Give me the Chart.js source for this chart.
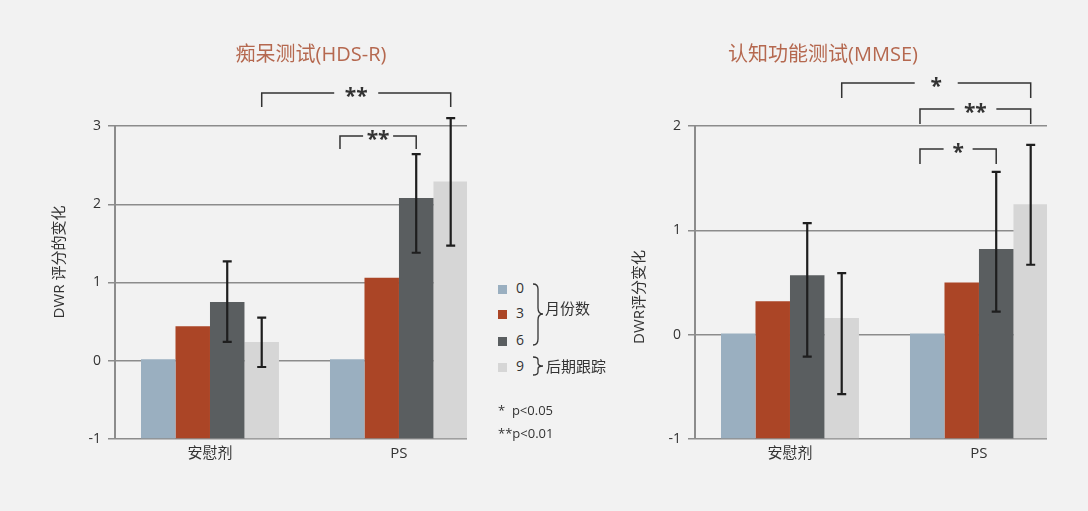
<!DOCTYPE html>
<html lang="zh">
<head>
    <meta charset="UTF-8">
    <title>DWR 评分的变化</title>
    <script src="https://cdn.jsdelivr.net/npm/chart.js"></script>
    <style>
        body {
            margin: 0;
            background-color: #f2f2f2;
            font-family: "Open Sans", "Noto Sans CJK SC", sans-serif;
            color: #333;
        }

        .page {
            position: relative;
            width: 1088px;
            height: 511px;
            overflow: hidden;
        }

        canvas {
            position: absolute;
            top: 0;
        }

        #hdsChart { left: 0; }
        #mmseChart { left: 580px; }

        .legend-item {
            position: absolute;
            left: 498px;
            height: 20px;
            line-height: 20px;
            font-size: 14px;
            white-space: nowrap;
        }

        .swatch {
            display: inline-block;
            width: 9px;
            height: 9px;
            margin-right: 9px;
            vertical-align: -1px;
        }

        .note {
            position: absolute;
            font-size: 15px;
            line-height: 20px;
            white-space: nowrap;
        }

        .pval {
            position: absolute;
            left: 498px;
            font-size: 13px;
            line-height: 18px;
            white-space: nowrap;
        }

        .brace {
            position: absolute;
            left: 532px;
        }
    </style>
</head>
<body>

<div class="page">
    <canvas id="hdsChart" width="480" height="511"></canvas>
    <canvas id="mmseChart" width="480" height="511"></canvas>

    <div id="legend"></div>
    <svg class="brace" style="top:283px" width="12" height="63">
        <path d="M1,1 Q6,1 6,6 L6,25 Q6,31 11,31 Q6,31 6,37 L6,56 Q6,62 1,62" fill="none" stroke="#333" stroke-width="1.3"/>
    </svg>
    <div class="note" style="left:545px; top:298px">月份数</div>
    <svg class="brace" style="top:356px" width="12" height="20">
        <path d="M1,1 Q6,1 6,4 L6,7 Q6,10 11,10 Q6,10 6,13 L6,16 Q6,19 1,19" fill="none" stroke="#333" stroke-width="1.3"/>
    </svg>
    <div class="note" style="left:546px; top:356px">后期跟踪</div>

    <div class="pval" style="top:401px">*&nbsp; p&lt;0.05</div>
    <div class="pval" style="top:424px">**p&lt;0.01</div>
</div>

<script>
    const groups = ['安慰剂', 'PS'];
    const months = ['0', '3', '6', '9'];
    const colors = ['#9aafc0', '#ab4526', '#5a5e60', '#d6d6d6'];

    // 痴呆测试(HDS-R)
    const hdsM0 = [0.02, 0.02];
    const hdsM3 = [0.44, 1.06];
    const hdsM6 = [0.75, 2.08];
    const hdsM9 = [0.24, 2.29];
    const hdsErr6 = [[0.24, 1.27], [1.38, 2.64]];
    const hdsErr9 = [[-0.08, 0.55], [1.47, 3.10]];
    const hdsTicks = [-1, 0, 1, 2, 3];
    // [group, month index] pairs that are compared
    const hdsSig = [
        { a: [0, 3], b: [1, 3], label: '**' },
        { a: [1, 0], b: [1, 2], label: '**' }
    ];

    // 认知功能测试(MMSE)
    const mmseM0 = [0.01, 0.01];
    const mmseM3 = [0.32, 0.50];
    const mmseM6 = [0.57, 0.82];
    const mmseM9 = [0.16, 1.25];
    const mmseErr6 = [[-0.21, 1.07], [0.22, 1.56]];
    const mmseErr9 = [[-0.57, 0.59], [0.67, 1.82]];
    const mmseTicks = [-1, 0, 1, 2];
    const mmseSig = [
        { a: [0, 3], b: [1, 3], label: '*' },
        { a: [1, 0], b: [1, 3], label: '**' },
        { a: [1, 0], b: [1, 2], label: '*' }
    ];

    Chart.defaults.font.family = '"Open Sans", "Noto Sans CJK SC", sans-serif';
    Chart.defaults.color = '#333';

    // legend
    const legendEl = document.getElementById('legend');
    const legendTops = [278, 303, 330, 356];
    months.forEach((m, i) => {
        const item = document.createElement('div');
        item.className = 'legend-item';
        item.style.top = legendTops[i] + 'px';
        item.innerHTML = '<span class="swatch" style="background:' + colors[i] + '"></span>' + m;
        legendEl.appendChild(item);
    });

    // titles, error bars and significance brackets
    const extras = {
        id: 'extras',
        afterDatasetsDraw(chart, args, o) {
            const ctx = chart.ctx;
            const y = chart.scales.y;
            ctx.save();
            ctx.strokeStyle = '#1e1e1e';
            ctx.lineWidth = 2.2;
            chart.data.datasets.forEach((ds, i) => {
                if (!ds.err) return;
                chart.getDatasetMeta(i).data.forEach((bar, j) => {
                    const lo = y.getPixelForValue(ds.err[j][0]);
                    const hi = y.getPixelForValue(ds.err[j][1]);
                    ctx.beginPath();
                    ctx.moveTo(bar.x, lo); ctx.lineTo(bar.x, hi);
                    ctx.moveTo(bar.x - 4.5, lo); ctx.lineTo(bar.x + 4.5, lo);
                    ctx.moveTo(bar.x - 4.5, hi); ctx.lineTo(bar.x + 4.5, hi);
                    ctx.stroke();
                });
            });
            ctx.restore();
        },
        afterDraw(chart, args, o) {
            const ctx = chart.ctx;
            ctx.save();

            ctx.fillStyle = '#b5684f';
            ctx.font = '20px "Open Sans", "Noto Sans CJK SC", sans-serif';
            ctx.textAlign = 'center';
            ctx.textBaseline = 'middle';
            ctx.fillText(o.title, o.titleX, 55);

            ctx.save();
            ctx.fillStyle = '#333';
            ctx.font = '15px "Open Sans", "Noto Sans CJK SC", sans-serif';
            ctx.translate(60, o.yTitleY);
            ctx.rotate(-Math.PI / 2);
            ctx.fillText(o.yTitle, 0, 0);
            ctx.restore();

            const px = (g, s) => {
                const b = chart.getDatasetMeta(s).data[g];
                return s === 0 ? b.x - b.width / 2 + 10 : b.x;
            };
            ctx.strokeStyle = '#333';
            ctx.lineWidth = 1.5;
            ctx.fillStyle = '#333';
            ctx.font = 'bold 21px "Open Sans", sans-serif';
            ctx.textBaseline = 'alphabetic';
            o.sig.forEach((s, k) => {
                const pos = o.sigPos[k];
                const x1 = px(s.a[0], s.a[1]);
                const x2 = px(s.b[0], s.b[1]);
                const mid = (x1 + x2) / 2;
                const top = pos.top;
                ctx.beginPath();
                ctx.moveTo(x1, top + pos.leg); ctx.lineTo(x1, top); ctx.lineTo(mid - pos.gap / 2, top);
                ctx.moveTo(mid + pos.gap / 2, top); ctx.lineTo(x2, top); ctx.lineTo(x2, top + pos.leg);
                ctx.stroke();
                ctx.fillText(s.label, mid, top + 10);
            });
            ctx.restore();
        }
    };

    function makeChart(id, series, errs, ticks, extraOpts) {
        const datasets = series.map((vals, i) => ({
            label: months[i],
            data: vals.map((v, j) => ({ x: j, y: v })),
            backgroundColor: colors[i],
            base: ticks[0],
            err: errs[i],
            categoryPercentage: 0.73,
            barPercentage: 1.0
        }));
        return new Chart(document.getElementById(id), {
            type: 'bar',
            data: { datasets: datasets },
            plugins: [extras],
            options: {
                responsive: false,
                animation: false,
                layout: { padding: { left: 0, right: 13, top: 126, bottom: 0 } },
                scales: {
                    x: {
                        type: 'linear',
                        min: -0.5026,
                        max: 1.36,
                        offset: false,
                        afterBuildTicks: (s) => { s.ticks = groups.map((g, i) => ({ value: i })); },
                        afterFit: (s) => { s.height = 72; },
                        grid: { display: false, drawTicks: false, offset: false },
                        border: { display: false },
                        ticks: {
                            padding: 6,
                            font: { size: 15 },
                            color: '#333',
                            callback: (v) => groups[v]
                        }
                    },
                    y: {
                        min: ticks[0],
                        max: ticks[ticks.length - 1],
                        afterBuildTicks: (s) => { s.ticks = ticks.map(t => ({ value: t })); },
                        afterFit: (s) => { s.width = 115; },
                        grid: { color: '#8c8c8c', lineWidth: 1.5, tickLength: 7 },
                        border: { display: true, color: '#8c8c8c', width: 2 },
                        ticks: { padding: 7, font: { size: 14 }, color: '#333' }
                    }
                },
                plugins: {
                    legend: { display: false },
                    tooltip: { enabled: false },
                    extras: extraOpts
                }
            }
        });
    }

    makeChart('hdsChart', [hdsM0, hdsM3, hdsM6, hdsM9], [null, null, hdsErr6, hdsErr9], hdsTicks, {
        title: '痴呆测试(HDS-R)',
        titleX: 311,
        yTitle: 'DWR 评分的变化',
        yTitleY: 262,
        sig: hdsSig,
        sigPos: [{ top: 93, leg: 14, gap: 44 }, { top: 136, leg: 13, gap: 30 }]
    });

    makeChart('mmseChart', [mmseM0, mmseM3, mmseM6, mmseM9], [null, null, mmseErr6, mmseErr9], mmseTicks, {
        title: '认知功能测试(MMSE)',
        titleX: 243,
        yTitle: 'DWR评分变化',
        yTitleY: 297,
        sig: mmseSig,
        sigPos: [{ top: 83, leg: 15, gap: 43 }, { top: 109, leg: 15, gap: 42 }, { top: 149, leg: 15, gap: 29 }]
    });
</script>
</body>
</html>
